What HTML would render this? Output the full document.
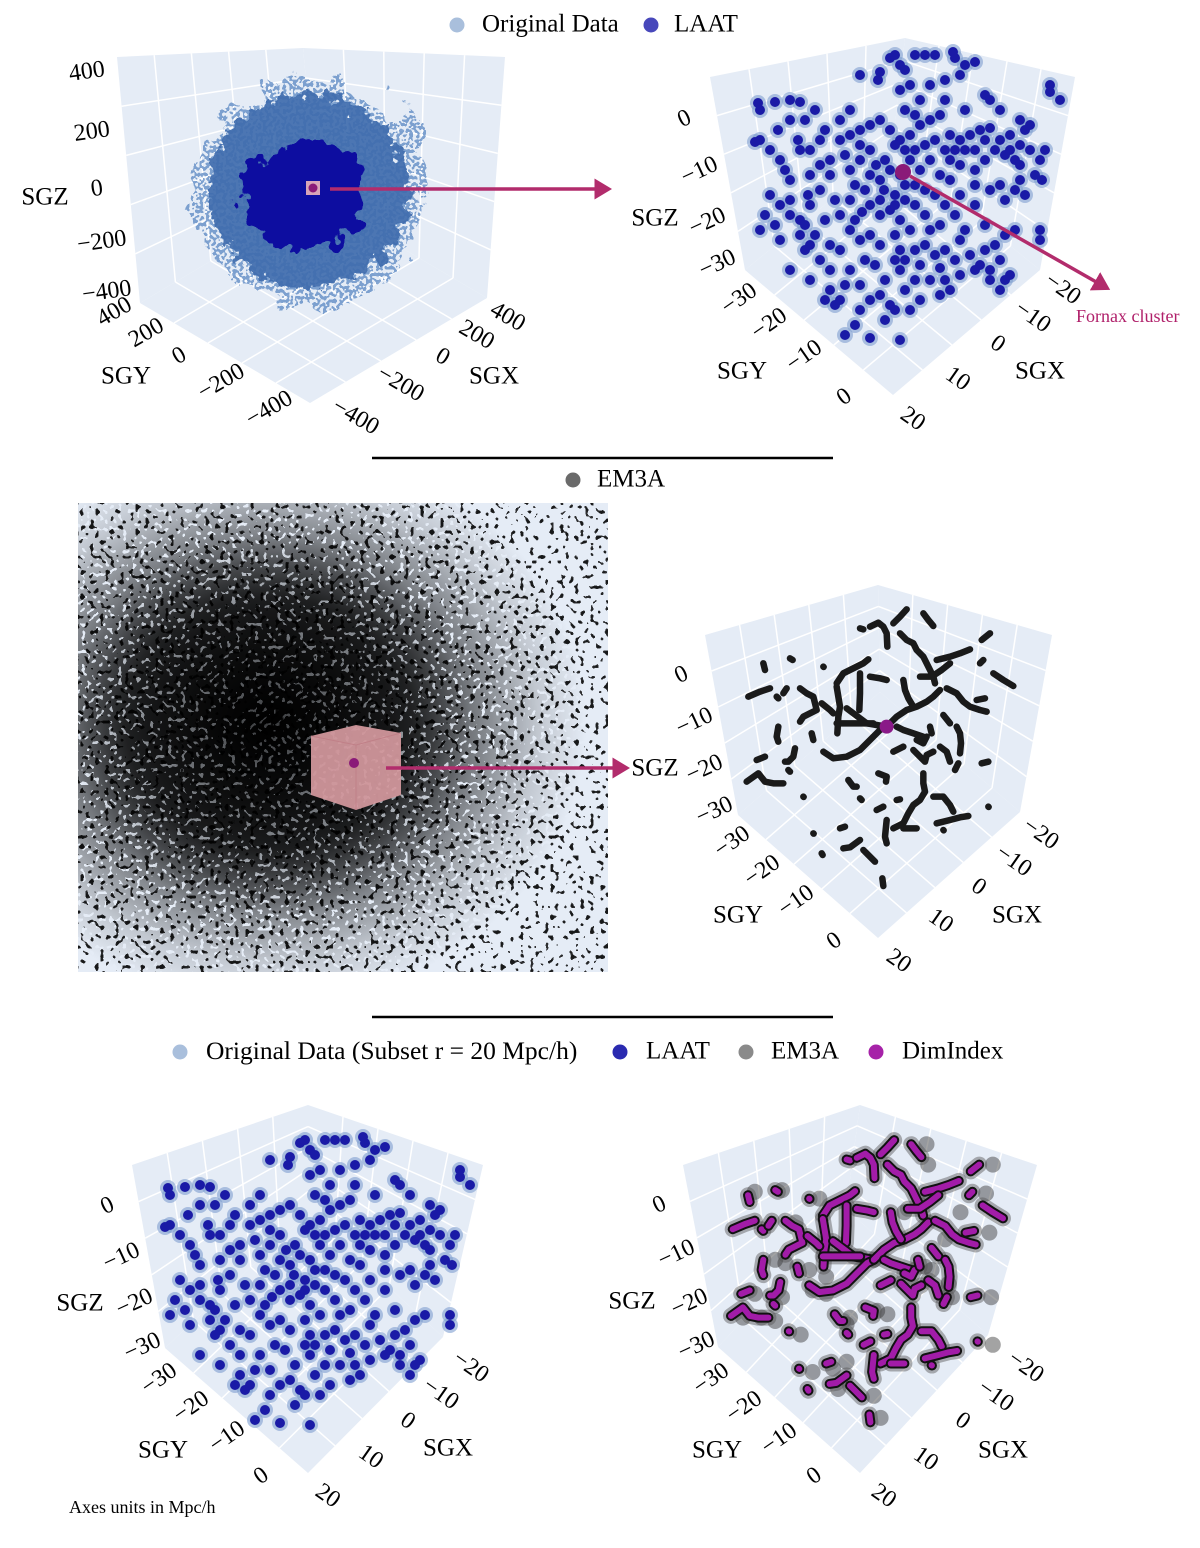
<!DOCTYPE html>
<html>
<head>
<meta charset="utf-8">
<style>
html,body{margin:0;padding:0;background:#fff;}
svg{display:block;}
text{font-family:"Liberation Serif",serif;fill:#000;}
</style>
</head>
<body>
<svg id="fig" width="1200" height="1548" viewBox="0 0 1200 1548" xmlns="http://www.w3.org/2000/svg">
<defs>
  <filter id="blobOuter" x="-30%" y="-30%" width="160%" height="160%">
    <feTurbulence type="fractalNoise" baseFrequency="0.09" numOctaves="3" seed="4" result="t"/>
    <feDisplacementMap in="SourceGraphic" in2="t" scale="30" xChannelSelector="R" yChannelSelector="G"/>
  </filter>
  <filter id="blobInner" x="-30%" y="-30%" width="160%" height="160%">
    <feTurbulence type="fractalNoise" baseFrequency="0.05" numOctaves="3" seed="9" result="t"/>
    <feDisplacementMap in="SourceGraphic" in2="t" scale="38" xChannelSelector="R" yChannelSelector="G"/>
  </filter>
  <filter id="halo" x="-30%" y="-30%" width="160%" height="160%">
    <feTurbulence type="fractalNoise" baseFrequency="0.035" numOctaves="3" seed="21" result="lt"/>
    <feDisplacementMap in="SourceGraphic" in2="lt" scale="55" xChannelSelector="R" yChannelSelector="G" result="disp"/>
    <feTurbulence type="fractalNoise" baseFrequency="0.3" numOctaves="1" seed="5" result="n"/>
    <feColorMatrix in="n" type="matrix" values="0 0 0 0 0  0 0 0 0 0  0 0 0 0 0  1.6 0 0 0 -0.3" result="a"/>
    <feComponentTransfer in="a" result="d"><feFuncA type="discrete" tableValues="0 0 0 0 0 1 1 1 1 1"/></feComponentTransfer>
    <feComposite in="disp" in2="d" operator="in"/>
  </filter>
  <filter id="spk1" x="0" y="0" width="1" height="1">
    <feTurbulence type="fractalNoise" baseFrequency="0.2" numOctaves="1" seed="3" result="n"/>
    <feColorMatrix in="n" type="matrix" values="0 0 0 0 0  0 0 0 0 0  0 0 0 0 0  1.6 0 0 0 -0.3"/>
    <feComponentTransfer><feFuncA type="discrete" tableValues="0 0 0 0 0 0 0 0.8 0.9 0.9"/></feComponentTransfer>
  </filter>
  <filter id="spk2" x="0" y="0" width="1" height="1">
    <feTurbulence type="fractalNoise" baseFrequency="0.22" numOctaves="1" seed="11" result="n"/>
    <feColorMatrix in="n" type="matrix" values="0 0 0 0 0  0 0 0 0 0  0 0 0 0 0  1.6 0 0 0 -0.3"/>
    <feComponentTransfer><feFuncA type="discrete" tableValues="0 0 0 1 1 1 1 1 1 1"/></feComponentTransfer>
  </filter>
  <radialGradient id="dens" cx="0.36" cy="0.47" r="0.6">
    <stop offset="0" stop-color="#fff" stop-opacity="1"/>
    <stop offset="0.45" stop-color="#fff" stop-opacity="0.8"/>
    <stop offset="0.85" stop-color="#fff" stop-opacity="0.15"/>
    <stop offset="1" stop-color="#fff" stop-opacity="0"/>
  </radialGradient>
  <radialGradient id="coreG" cx="0.5" cy="0.5" r="0.5">
    <stop offset="0" stop-color="#000" stop-opacity="0.75"/>
    <stop offset="0.6" stop-color="#000" stop-opacity="0.45"/>
    <stop offset="1" stop-color="#000" stop-opacity="0"/>
  </radialGradient>
  <mask id="densMask" maskUnits="userSpaceOnUse" x="78" y="503" width="530" height="469">
    <rect x="78" y="503" width="530" height="469" fill="url(#dens)"/>
  </mask>
  <clipPath id="emClip"><rect x="78" y="503" width="530" height="469"/></clipPath>
  <marker id="arrowHead" markerWidth="6" markerHeight="6" refX="1" refY="3" orient="auto" markerUnits="strokeWidth">
    <path d="M0,0 L5,3 L0,6 Z" fill="#b22c6c"/>
  </marker>
</defs>
</svg>
<script>
// ---------- data (screen-projected positions) ----------
const ptsLAAT = [[895,55],[900,65],[905,70],[890,58],[915,55],[925,55],[935,55],[955,58],[965,65],[975,62],[953,52],[960,75],[945,80],[930,85],[910,85],[880,72],[860,75],[878,80],[900,90],[920,100],[940,115],[945,100],[965,110],[985,95],[990,100],[1000,110],[1020,120],[1030,125],[1050,92],[1060,100],[1050,85],[758,103],[775,102],[760,110],[790,100],[800,102],[760,140],[755,142],[778,130],[790,120],[805,120],[780,160],[800,150],[785,170],[790,180],[810,175],[820,165],[830,160],[840,140],[850,135],[860,130],[870,125],[880,120],[890,130],[900,140],[910,135],[920,125],[935,140],[950,135],[960,140],[970,135],[980,130],[990,128],[1000,140],[1010,135],[1020,145],[1025,130],[1030,150],[1040,160],[1035,175],[1042,180],[870,150],[860,160],[850,170],[855,185],[865,190],[880,180],[890,170],[900,175],[905,185],[910,160],[920,170],[930,160],[940,175],[950,180],[960,165],[975,170],[985,160],[990,190],[1005,200],[1000,185],[770,195],[780,205],[790,200],[765,215],[775,225],[790,215],[800,220],[810,205],[820,190],[835,200],[840,215],[850,230],[855,220],[870,205],[880,200],[890,210],[900,220],[910,230],[915,205],[925,215],[940,225],[955,215],[965,230],[975,205],[985,225],[810,245],[815,235],[805,250],[830,245],[860,240],[870,235],[895,235],[900,250],[905,260],[915,250],[925,245],[935,255],[945,250],[955,260],[960,240],[970,255],[980,265],[990,270],[1000,260],[1010,275],[990,280],[975,270],[960,275],[945,280],[930,280],[915,280],[905,290],[885,280],[875,265],[865,260],[850,270],[845,285],[830,290],[825,300],[835,305],[870,300],[880,295],[890,305],[895,310],[885,320],[860,310],[855,325],[845,335],[870,338],[900,340],[900,270],[830,270],[810,280],[820,260],[790,270],[805,225],[895,145],[905,150],[885,160],[915,150],[925,145],[945,150],[955,150],[975,150],[995,150],[1005,155],[1015,160],[860,145],[845,155],[830,175],[810,150],[820,140],[1040,240],[1040,230],[1045,150],[876,165],[884,190],[895,195],[915,185],[925,190],[935,195],[950,160],[965,150],[985,140],[1010,150],[1020,165],[870,175],[850,200],[862,212],[880,215],[895,205],[905,200],[930,230],[945,205],[960,195],[975,185],[1015,190],[1025,195],[1020,180],[930,120],[915,115],[905,110],[850,110],[840,120],[825,130],[815,110],[798,140],[770,150],[808,195],[760,230],[780,240],[800,235],[825,220],[840,250],[880,245],[895,260],[920,265],[940,268],[985,250],[995,245],[1005,235],[1015,230],[1000,290],[1005,280],[950,290],[940,295],[920,300],[910,310],[860,285],[840,300]];
const filaments = [
 [[690,175],[700,178]],
 [[720,170],[745,158],[760,170],[770,190],[772,230]],
 [[790,160],[810,140],[830,118]],
 [[880,130],[895,150],[910,168]],
 [[810,190],[830,210],[850,220],[860,240],[880,260],[895,290],[910,320],[915,340]],
 [[1080,190],[1055,210]],
 [[920,270],[960,260],[990,250],[1020,238]],
 [[1060,270],[1050,280]],
 [[1090,310],[1120,330],[1150,348]],
 [[620,340],[640,310],[670,295],[700,280],[715,268]],
 [[690,310],[690,370],[688,420]],
 [[720,320],[750,325],[770,330]],
 [[355,380],[390,365],[420,355]],
 [[400,280],[405,300]],
 [[480,265],[488,270]],
 [[580,290],[581,291]],
 [[440,380],[445,385]],
 [[510,355],[530,370],[550,380],[555,400],[560,420],[540,430],[520,440],[510,455]],
 [[470,355],[460,370]],
 [[620,350],[625,380],[630,410],[625,440],[622,490]],
 [[575,400],[600,420],[610,430]],
 [[650,415],[670,430],[690,445],[710,460],[740,465],[770,470]],
 [[620,460],[650,460],[690,460],[730,460]],
 [[580,545],[610,565],[650,560],[690,540],[720,510],[750,480],[770,470]],
 [[445,470],[440,500],[445,515]],
 [[545,490],[550,510]],
 [[495,535],[490,560],[475,575],[465,575]],
 [[380,570],[405,560]],
 [[350,635],[385,610],[405,635],[430,640],[460,640]],
 [[475,600],[480,605]],
 [[520,680],[521,681]],
 [[770,470],[800,440],[830,420],[860,410],[890,395],[910,380],[930,360]],
 [[820,330],[825,360],[835,385],[850,410]],
 [[870,320],[905,320],[935,300],[960,280]],
 [[950,355],[980,370],[1000,395],[1020,410],[1050,420],[1070,425]],
 [[1040,390],[1065,385]],
 [[800,470],[820,480],[850,490],[880,500]],
 [[860,510],[880,520],[890,500]],
 [[940,435],[960,460]],
 [[980,470],[990,490],[993,520],[990,550]],
 [[900,470],[905,490]],
 [[790,545],[820,530]],
 [[850,540],[870,560],[885,575],[890,555],[910,545]],
 [[930,530],[950,545],[960,575]],
 [[985,580],[975,600]],
 [[1055,580],[1075,575]],
 [[880,610],[880,640],[885,665],[870,690],[850,705],[835,730],[820,760],[790,775]],
 [[820,775],[860,775]],
 [[910,680],[940,680],[960,705],[970,725]],
 [[920,760],[960,750],[990,742],[1015,738]],
 [[1075,710],[1076,711]],
 [[745,610],[770,620],[768,635]],
 [[655,630],[670,650],[680,650]],
 [[800,690],[810,688]],
 [[740,720],[760,710]],
 [[770,750],[765,800],[770,820]],
 [[630,775],[645,770]],
 [[550,790],[551,791]],
 [[640,835],[660,832],[690,810]],
 [[700,840],[720,860],[735,875]],
 [[575,850],[578,855]],
 [[757,925],[760,948]],
 [[690,685],[695,690]],
 [[940,780],[941,781]]
];
const greyExtra = [[420,270],[500,265],[610,290],[925,130],[930,190],[1120,190],[1100,275],[1110,390],[480,470],[510,480],[580,500],[630,520],[590,560],[630,570],[420,570],[500,580],[385,640],[440,640],[480,650],[555,690],[700,640],[690,660],[780,620],[810,630],[990,540],[1000,580],[1115,580],[1120,720],[590,800],[650,790],[690,770],[770,870],[790,935],[665,850],[860,330],[1025,330],[980,410],[540,360],[920,490],[940,500]];

const ticksTLz = ["400","200","0","−200","−400"];
const ticksTLxy = ["400","200","0","−200","−400"];
const ticksSmallZ = ["0","−10","−20","−30"];
const ticksSmallY = ["−30","−20","−10","0"];
const ticksSmallX = ["−20","−10","0","10","20"];

const NS = "http://www.w3.org/2000/svg";
const svg = document.getElementById('fig');
function mk(tag, attrs, parent){
  const e = document.createElementNS(NS, tag);
  for (const k in attrs) e.setAttribute(k, attrs[k]);
  (parent||svg).appendChild(e);
  return e;
}
function lerp(a,b,t){return [a[0]+(b[0]-a[0])*t, a[1]+(b[1]-a[1])*t];}

function drawBox(G, n, name){
  const g = mk('g',{});
  
  
  const quads = [[G.TL,G.TB,G.B,G.L],[G.TB,G.TR,G.R,G.B],[G.L,G.B,G.R,G.F]];
  quads.forEach((q,qi)=>{
    const p = mk('polygon',{points:q.map(v=>v.join(',')).join(' '), fill:'#e5ecf6'}, g);
    
    
    for (let i=1;i<n;i++){
      const t=i/n;
      const a=lerp(q[0],q[1],t), b=lerp(q[3],q[2],t);
      const l1 = mk('line',{x1:a[0],y1:a[1],x2:b[0],y2:b[1],stroke:'#fff','stroke-width':1.5}, g);
      
      
      const c=lerp(q[0],q[3],t), d=lerp(q[1],q[2],t);
      const l2 = mk('line',{x1:c[0],y1:c[1],x2:d[0],y2:d[1],stroke:'#fff','stroke-width':1.5}, g);
      
      
    }
  });
  return g;
}
function txt(x,y,s,size,rot,name,anchor){
  const t = mk('text',{x:x,y:y,'font-size':size,'text-anchor':anchor||'middle','dominant-baseline':'middle'});
  if (rot) t.setAttribute('transform','rotate('+rot+' '+x+' '+y+')');
  t.textContent = s;
  
  
  return t;
}
function ticks(list, pos, rot, name){
  list.forEach((s,i)=>{ txt(pos[i][0],pos[i][1],s,24,rot,name); });
}

drawBox({TB:[303,48],TL:[117,57],TR:[505,57],L:[140,303],R:[487,298],F:[310,403],B:[317,198]},5,'box-original-full');
drawBox({TB:[905,38],TL:[710,77],TR:[1075,77],L:[745,270],R:[1040,270],F:[893,395],B:[892,150]},5,'box-laat-subset');
drawBox({TB:[878,585],TL:[705,635],TR:[1052,635],L:[738,815],R:[1020,812],F:[878,938],B:[880,692]},5,'box-em3a-subset');
drawBox({TB:[308,1105],TL:[132,1165],TR:[483,1165],L:[165,1348],R:[443,1337],F:[308,1473],B:[308,1213]},5,'box-compare-laat');
drawBox({TB:[860,1105],TL:[683,1165],TR:[1037,1165],L:[718,1347],R:[988,1335],F:[860,1473],B:[846,1209]},5,'box-compare-dimindex');

// ---------- top-left full cloud ----------
const hc = mk('ellipse',{cx:309,cy:191,rx:118,ry:112,fill:'#4f7fbf','fill-opacity':0.7,filter:'url(#halo)'});


const oc = mk('ellipse',{cx:309,cy:191,rx:100,ry:96,fill:'#3f6dae',opacity:0.92,filter:'url(#blobOuter)'});


const ic = mk('ellipse',{cx:303,cy:195,rx:62,ry:56,fill:'#1010a0',filter:'url(#blobInner)'});


const sq = mk('rect',{x:306,y:181,width:14,height:14,fill:'#d7a4b8'});


const sqd = mk('circle',{cx:313,cy:188,r:4.5,fill:'#8a1a78'});



// ---------- sparse LAAT panels ----------
function drawLAAT(dx,dy,name){
  const px = v => v+dx, py = v => v+dy;
  const g = mk('g',{});
  
  
  ptsLAAT.forEach(p=>{
    const h = mk('circle',{cx:px(p[0]),cy:py(p[1]),r:8,fill:'#7f9fd0','fill-opacity':0.6},g);
    
    
  });
  ptsLAAT.forEach(p=>{
    const c = mk('circle',{cx:px(p[0]),cy:py(p[1]),r:5,fill:'#1a1aa6'},g);
    
    
  });
}
drawLAAT(0,0,'laat-scatter-top');
drawLAAT(-590,1085,'laat-scatter-bottom');
const fx = mk('circle',{cx:903,cy:172,r:8,fill:'#8a1a78'});



// ---------- EM3A dense panel (middle-left) ----------
const emg = mk('g',{'clip-path':'url(#emClip)'});


const bg = mk('rect',{x:78,y:503,width:530,height:469,fill:'#e5ecf6'},emg);


const s1 = mk('rect',{x:78,y:503,width:530,height:469,fill:'#000',filter:'url(#spk1)'},emg);


const sg = mk('g',{mask:'url(#densMask)'},emg);
const s2 = mk('rect',{x:78,y:503,width:530,height:469,fill:'#000',filter:'url(#spk2)'},sg);


const core = mk('ellipse',{cx:270,cy:725,rx:200,ry:190,fill:'url(#coreG)'},emg);


const cube = mk('polygon',{points:'311,736 356,725 401,733 401,795 356,810 311,795',fill:'#d69aa0','fill-opacity':0.92},emg);


const cl = mk('polyline',{points:'311,736 356,745 401,733',fill:'none',stroke:'#c08088','stroke-width':1},emg);


const cl2 = mk('line',{x1:356,y1:745,x2:356,y2:810,stroke:'#c08088','stroke-width':1},emg);


const cd = mk('circle',{cx:354,cy:763,r:5,fill:'#8a1a78'},emg);



// ---------- EM3A filament panels ----------
const mx = z => 630+z/3, my = z => 570+z/3;
const bx = z => 612+z*0.34, by = z => 1100+z*0.34;
const fm = mk('g',{});


filaments.forEach(f=>{
  const pl = mk('polyline',{points:f.map(p=>mx(p[0])+','+my(p[1])).join(' '),fill:'none',stroke:'#1a1a1a','stroke-width':6.5,'stroke-linecap':'round','stroke-linejoin':'round'},fm);
  
  
});
const mc = mk('circle',{cx:mx(770),cy:my(470),r:7,fill:'#8a1a88'});



const fb = mk('g',{});


greyExtra.forEach(p=>{
  const c = mk('circle',{cx:bx(p[0]),cy:by(p[1]),r:8,fill:'#333','fill-opacity':0.45},fb);
  
  
});
filaments.forEach(f=>{
  const pts = f.map(p=>bx(p[0])+','+by(p[1])).join(' ');
  const h = mk('polyline',{points:pts,fill:'none',stroke:'#555','stroke-opacity':0.45,'stroke-width':16,'stroke-linecap':'round','stroke-linejoin':'round'},fb);
  
  
});
filaments.forEach(f=>{
  const pts = f.map(p=>bx(p[0])+','+by(p[1])).join(' ');
  const k = mk('polyline',{points:pts,fill:'none',stroke:'#111','stroke-width':10,'stroke-linecap':'round','stroke-linejoin':'round'},fb);
  
  
  const m = mk('polyline',{points:pts,fill:'none',stroke:'#a21ca8','stroke-width':6,'stroke-linecap':'round','stroke-linejoin':'round'},fb);
  
  
});

// ---------- arrows ----------
function arrow(x1,y1,x2,y2,name){
  const a = mk('line',{x1:x1,y1:y1,x2:x2,y2:y2,stroke:'#b22c6c','stroke-width':3.5,'marker-end':'url(#arrowHead)'});
  
  
}
arrow(330,189,598,189,'zoom-arrow-top');
arrow(910,176,1098,283,'fornax-arrow');
arrow(386,768,616,768,'zoom-arrow-middle');
const fl = txt(1076,318,'Fornax cluster',18,0,'fornax-label','start');
fl.setAttribute('style','fill:#b0206a');

// ---------- axis tick labels ----------
ticks(ticksTLz,[[87,73],[92,133],[97,190],[102,243],[107,293]],-8,'tl-z-tick');
ticks(ticksTLxy,[[115,313],[147,334],[180,357],[222,383],[270,410]],-30,'tl-y-tick');
ticks(ticksTLxy,[[507,318],[476,336],[442,358],[400,385],[355,418]],30,'tl-x-tick');
txt(45,199,'SGZ',25,0,'tl-z-title'); txt(126,378,'SGY',25,0,'tl-y-title'); txt(494,378,'SGX',25,0,'tl-x-title');

function smallTicks(z,y,x,zt,yt,xt,pfx){
  ticks(ticksSmallZ,z,-25,pfx+'-z-tick');
  ticks(ticksSmallY,y,-35,pfx+'-y-tick');
  ticks(ticksSmallX,x,35,pfx+'-x-tick');
  txt(zt[0],zt[1],'SGZ',25,0,pfx+'-z-title');
  txt(yt[0],yt[1],'SGY',25,0,pfx+'-y-title');
  txt(xt[0],xt[1],'SGX',25,0,pfx+'-x-title');
}
smallTicks([[685,120],[700,172],[708,223],[718,265]],[[740,300],[770,325],[805,357],[845,398]],[[1062,290],[1032,318],[997,345],[957,380],[912,420]],[655,220],[742,373],[1040,373],'tr');
smallTicks([[682,676],[695,723],[705,770],[715,812]],[[733,843],[763,872],[797,902],[835,942]],[[1040,835],[1013,862],[978,888],[940,922],[898,962]],[655,770],[738,917],[1017,917],'mr');
smallTicks([[108,1207],[122,1258],[135,1304],[143,1348]],[[160,1380],[192,1408],[228,1438],[262,1477]],[[470,1368],[440,1395],[407,1422],[370,1458],[327,1497]],[80,1305],[163,1452],[448,1450],'bl');
smallTicks([[660,1206],[677,1255],[690,1304],[697,1347]],[[712,1380],[745,1408],[780,1440],[815,1477]],[[1025,1368],[995,1397],[962,1422],[925,1460],[883,1497]],[632,1303],[717,1452],[1003,1452],'br');

// ---------- legends & separators ----------
function legendDot(cx,cy,fill,op,name){
  const c = mk('circle',{cx:cx,cy:cy,r:7.5,fill:fill,'fill-opacity':op});
  
  
}
legendDot(457,25,'#a9bfdc',1,'legend-original-marker'); txt(482,26,'Original Data',25,0,'legend-original-label','start');
legendDot(651,25,'#4848bb',1,'legend-laat-marker'); txt(674,26,'LAAT',25,0,'legend-laat-label','start');
const s1l = mk('line',{x1:372,y1:458,x2:833,y2:458,stroke:'#000','stroke-width':2.5});


legendDot(573,480,'#6a6a6a',1,'legend-em3a-marker'); txt(597,481,'EM3A',25,0,'legend-em3a-label','start');
const s2l = mk('line',{x1:372,y1:1017,x2:833,y2:1017,stroke:'#000','stroke-width':2.5});


legendDot(180,1052,'#a9bfdc',1,'legend-subset-marker'); txt(206,1053,'Original Data (Subset r = 20 Mpc/h)',25.5,0,'legend-subset-label','start');
legendDot(620,1052,'#2a2ab0',1,'legend-laat2-marker'); txt(646,1053,'LAAT',25,0,'legend-laat2-label','start');
legendDot(746,1052,'#8a8a8a',1,'legend-em3a2-marker'); txt(771,1053,'EM3A',25,0,'legend-em3a2-label','start');
legendDot(876,1052,'#a622a8',1,'legend-dimindex-marker'); txt(902,1053,'DimIndex',25,0,'legend-dimindex-label','start');
txt(69,1509,'Axes units in Mpc/h',18,0,'units-note','start');
</script>
</body>
</html>
